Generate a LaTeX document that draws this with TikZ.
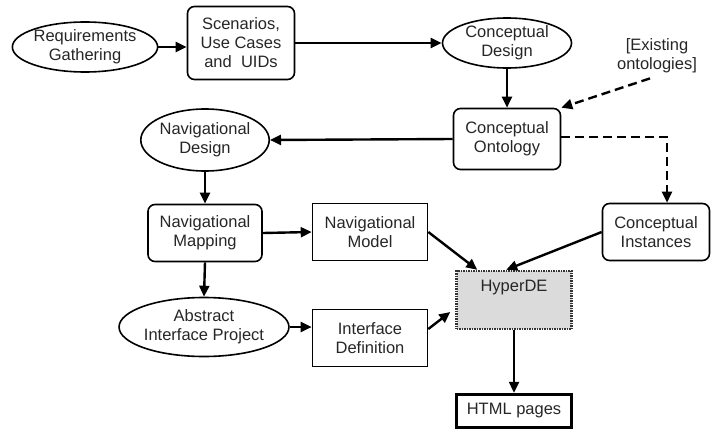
\documentclass[tikz,border=0pt]{standalone}
\usepackage{fontspec}
\setmainfont{Liberation Sans}
\usetikzlibrary{shapes.geometric,arrows.meta,calc}
\begin{document}
\begin{tikzpicture}[x=1pt,y=-1pt,
  every node/.style={font=\fontsize{16.5}{19}\selectfont, align=center, inner sep=0pt, text=black!85},
  oval/.style={draw, ellipse, line width=1.6pt},
  rbox/.style={draw, rounded corners=7pt, line width=1.6pt},
  sbox/.style={draw, line width=1.6pt},
  flow/.style={line width=2.4pt, -{Triangle[length=11pt,width=10pt]}},
  dflow/.style={line width=2.4pt, dash pattern=on 9pt off 5pt, -{Triangle[length=11pt,width=10pt]}}
]
\useasboundingbox (0,0) rectangle (711,431);

% process steps
\node[oval, minimum width=137, minimum height=50] (req) at (85,47) {Requirements\\Gathering};
\node[rbox, minimum width=107, minimum height=73] (scen) at (241,43) {Scenarios,\\Use Cases\\and~~UIDs};
\node[oval, minimum width=129, minimum height=50] (cdes) at (507,43) {Conceptual\\Design};
\node[rbox, minimum width=107, minimum height=61] (onto) at (507,139) {Conceptual\\Ontology};
\node (exist) at (657,56) {[Existing\\ontologies]};
\node[oval, minimum width=126, minimum height=62] (ndes) at (205,140) {Navigational\\Design};
\node[rbox, minimum width=114, minimum height=57] (nmap) at (205,233) {Navigational\\Mapping};
\node[sbox, minimum width=115, minimum height=57] (nmod) at (370,232) {Navigational\\Model};
\node[rbox, minimum width=107, minimum height=57] (inst) at (656,232) {Conceptual\\Instances};
\node[oval, minimum width=138, minimum height=59] (aip) at (204,327) {Abstract\\Interface Project};
\node[sbox, minimum width=115, minimum height=57] (idef) at (370,338) {Interface\\Definition};

% tool and output
\node[draw=black!80, fill=black!14, line width=2.5pt, dash pattern=on 1.5pt off 1pt,
      minimum width=115, minimum height=58] (hyper) at (514,300) {};
\node at ($(hyper.north)+(0,18)$) {HyperDE};
\node[draw, line width=3.5pt, minimum width=115, minimum height=33] (html) at (514,411) {HTML pages};

% connectors
\draw[flow] (req.east) -- (scen.west |- req.east);
\draw[flow] (scen.east) -- (cdes.west);
\draw[flow] (cdes.south) -- (onto.north);
\draw[dflow] ($(exist.south)+(-7,5)$) -- (onto.north east);
\draw[dflow] ([yshift=2]onto.east) -| ([xshift=11]inst.north);
\draw[flow] (onto.west) -- (ndes.east);
\draw[flow] (ndes.south) -- (nmap.north);
\draw[flow] (nmap.east) -- (nmod.west);
\draw[flow] (nmap.south) -- (aip.north);
\draw[flow] (aip.east) -- (aip.east -| idef.west);
\draw[flow] (nmod.east) -- ($(hyper.north west)+(22,0)$);
\draw[flow] (inst.west) -- ($(hyper.north west)+(51,0)$);
\draw[flow] ([yshift=9]idef.east) -- ($(hyper.west)+(-5,12)$);
\draw[flow] (hyper.south) -- (html.north);
\end{tikzpicture}
\end{document}
